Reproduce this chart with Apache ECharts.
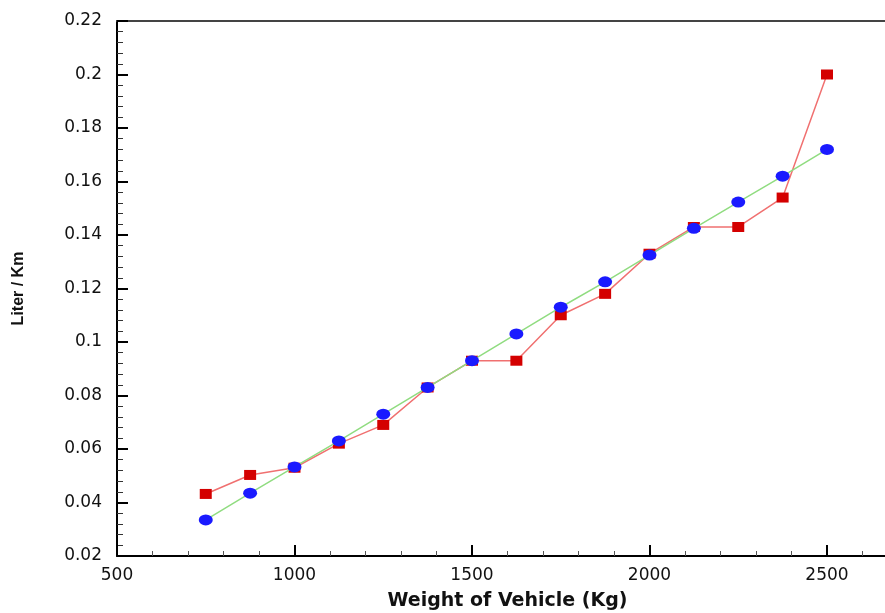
<!DOCTYPE html>
<html lang="en">
<head>
    <meta charset="UTF-8">
    <title>Liter / Km vs Weight of Vehicle</title>
    <script src="https://cdn.jsdelivr.net/npm/echarts@6/dist/echarts.min.js"></script>
</head>
<body style="margin:0;background:#fff;">
<div id="myChart" style="width: 885px;height: 613px;"></div>
<script>
    // data
    var weights = [750, 875, 1000, 1125, 1250, 1375, 1500, 1625, 1750, 1875, 2000, 2125, 2250, 2375, 2500];
    var blueValues = [0.0335, 0.0435, 0.0533, 0.063, 0.073, 0.083, 0.093, 0.103, 0.113, 0.1225, 0.1325, 0.1425, 0.1523, 0.162, 0.172];
    var redValues = [0.0432, 0.0503, 0.053, 0.062, 0.069, 0.083, 0.093, 0.093, 0.110, 0.118, 0.133, 0.143, 0.143, 0.154, 0.200];

    function pairs(xs, ys) {
        var out = [];
        for (var i = 0; i < xs.length; i++) out.push([xs[i], ys[i]]);
        return out;
    }

    var labelFont = {color: '#111', fontFamily: 'DejaVu Sans', fontSize: 17};

    var myChart = echarts.init(document.getElementById('myChart'));
    var option = {
        animation: false,
        grid: {left: 117, top: 21, right: -13, bottom: 57, outerBoundsMode: 'none', containLabel: false},
        xAxis: [{
            type: 'value',
            min: 500, max: 2700, interval: 500,
            name: 'Weight of Vehicle (Kg)',
            nameLocation: 'middle',
            nameGap: 36,
            nameTextStyle: {color: '#111', fontFamily: 'DejaVu Sans', fontSize: 19, fontWeight: 'bold', padding: [0, 0, 0, 0]},
            axisLine: {onZero: false, lineStyle: {color: '#000', width: 2}},
            axisTick: {inside: true, length: 11, lineStyle: {color: '#000', width: 2}},
            minorTick: {show: true, splitNumber: 5, length: 5, lineStyle: {color: '#555', width: 1}},
            splitLine: {show: false},
            axisLabel: Object.assign({
                margin: 11, showMaxLabel: false,
                formatter: function (v) { return String(v); }
            }, labelFont)
        }, {
            type: 'value',
            position: 'top',
            min: 500, max: 2700,
            axisLine: {onZero: false, lineStyle: {color: '#444', width: 2}},
            axisTick: {show: false},
            axisLabel: {show: false},
            splitLine: {show: false}
        }],
        yAxis: {
            type: 'value',
            min: 0.02, max: 0.22, interval: 0.02,
            name: 'Liter / Km',
            nameLocation: 'middle',
            nameGap: 90,
            nameRotate: 90,
            nameTextStyle: {color: '#111', fontFamily: 'Liberation Sans', fontSize: 16, fontWeight: 'bold'},
            axisLine: {onZero: false, lineStyle: {color: '#000', width: 2}},
            axisTick: {inside: true, length: 11, lineStyle: {color: '#000', width: 2}},
            minorTick: {show: true, splitNumber: 5, length: 6, lineStyle: {color: '#333', width: 1}},
            splitLine: {show: false},
            axisLabel: Object.assign({
                margin: 15,
                formatter: function (v) { return String(parseFloat(v.toFixed(2))); }
            }, labelFont)
        },
        series: [
            {
                name: 'red',
                type: 'line',
                data: pairs(weights, redValues),
                symbol: 'rect',
                symbolSize: [12, 10],
                itemStyle: {color: '#d40000'},
                lineStyle: {color: '#f07070', width: 1.5},
                z: 2
            },
            {
                name: 'blue',
                type: 'line',
                data: pairs(weights, blueValues),
                symbol: 'circle',
                symbolSize: [14, 11],
                itemStyle: {color: '#1a1aff'},
                lineStyle: {color: '#90dc80', width: 1.5},
                z: 3
            }
        ]
    };
    myChart.setOption(option);
</script>
</body>
</html>
